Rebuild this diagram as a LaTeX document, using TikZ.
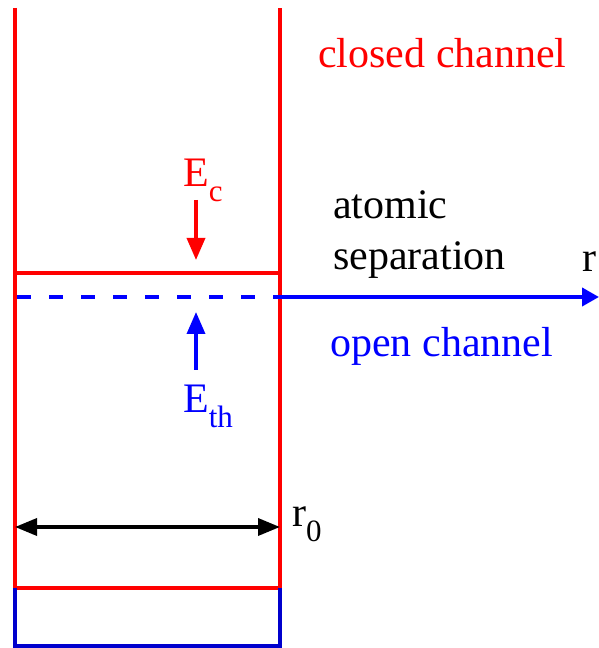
\documentclass[tikz,border=0pt]{standalone}
\usepackage{fontspec}
\setmainfont{Liberation Serif}
\usetikzlibrary{arrows.meta, positioning, calc}
\definecolor{closedcolor}{RGB}{255,0,0}
\definecolor{opencolor}{RGB}{0,0,255}
\definecolor{boxcolor}{RGB}{0,0,205}
\tikzset{
    wall/.style={line width=3.5pt},
    label/.style={font=\fontsize{42}{50}\selectfont, inner sep=0pt},
    arrow/.style={-{Triangle[length=22pt, width=18pt]}, line width=3.5pt},
    axis/.style={-{Triangle[length=17pt, width=18pt]}, line width=4pt}
}
\newcommand{\sub}[1]{\raisebox{-15pt}{\fontsize{31}{31}\selectfont #1}}

\begin{document}
\begin{tikzpicture}[x=1pt, y=1pt]
    \useasboundingbox (0,0) rectangle (599,648);

    % Box corners
    \coordinate (tl) at (15,640);
    \coordinate (tr) at (280,640);
    \coordinate (cl) at (15,375);
    \coordinate (cr) at (280,375);
    \coordinate (ml) at (15,60);
    \coordinate (mr) at (280,60);
    \coordinate (bl) at (15,2);
    \coordinate (br) at (280,2);
    \coordinate (ol) at (15,351);
    \coordinate (or) at (280,351);
    \coordinate (rend) at (599,351);

    % Layer 1: closed channel well
    \draw[wall, closedcolor] (tl) -- (ml) -- (mr) -- (tr);
    \draw[wall, closedcolor] (cl) -- (cr);

    % Layer 2: open channel
    \draw[wall, boxcolor] (ml) -- (bl) -- (br) -- (mr);
    \draw[opencolor, line width=4pt, dash pattern=on 14pt off 18pt] ($(ol)+(2,0)$) -- (or);
    \draw[axis, opencolor] ($(or)-(4,0)$) -- (rend);

    % Labels
    \node[label, closedcolor, anchor=base west] (closed) at (318,580) {closed channel};
    \node[label, anchor=base west] (atomic) at (333,429) {atomic};
    \node[label, anchor=base west] (sep) at (333,378) {separation};
    \node[label, anchor=base east] (r) at (597,376) {r};
    \node[label, opencolor, anchor=base west] (open) at (330,291) {open channel};

    % Energies
    \node[label, closedcolor, anchor=base west] (Ec) at (183,461) {E\sub{c}};
    \coordinate (EcTip) at (196,388);
    \draw[arrow, closedcolor] (196,448) -- (EcTip);
    \node[label, opencolor, anchor=base west] (Eth) at (183,235) {E\sub{th}};
    \coordinate (EthTip) at (196,336);
    \draw[arrow, opencolor] (196,278) -- (EthTip);

    % Width
    \coordinate (wl) at (15,121);
    \coordinate (wr) at (280,121);
    \draw[{Triangle[length=22pt, width=17pt]}-{Triangle[length=22pt, width=17pt]}, line width=3.5pt] (wl) -- (wr);
    \node[label, anchor=base west] (r0) at (292,121) {r\sub{0}};
\end{tikzpicture}
\end{document}
